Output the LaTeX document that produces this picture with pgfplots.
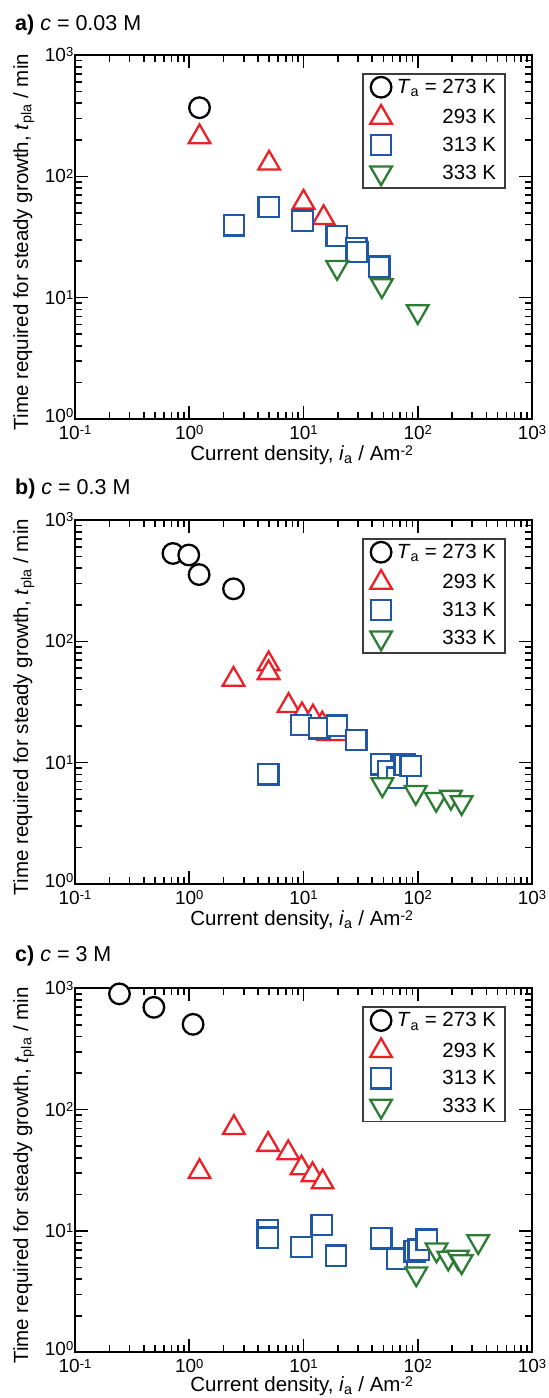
\documentclass[border=0pt]{standalone}
\usepackage{fontspec}
\setmainfont{Liberation Sans}
\usepackage{pgfplots}
\pgfplotsset{compat=1.18}
\definecolor{cred}{RGB}{236,32,39}
\definecolor{cblue}{RGB}{33,87,168}
\definecolor{cgreen}{RGB}{44,124,52}
\definecolor{cframe}{RGB}{60,60,60}
\newcommand{\sups}[1]{\raisebox{4.8pt}{\fontsize{13}{13}\selectfont #1}}
\newcommand{\tl}[1]{10\sups{#1}}
\pgfplotsset{
  s273/.style={only marks, mark=*, mark size=10.3pt, mark options={line width=2.3pt, draw=black, fill=white, solid}},
  s293/.style={only marks, mark=triangle*, mark size=12.5pt, mark options={line width=2.3pt, draw=cred, fill=white, solid}},
  s313/.style={only marks, mark=square*, mark size=10.2pt, mark options={line width=2.3pt, draw=cblue, fill=white, solid}},
  s333/.style={only marks, mark=triangle*, mark size=12.5pt, mark options={line width=2.3pt, draw=cgreen, fill=white, solid, rotate=180}},
  every axis/.append style={
    scale only axis, width=457pt, height=364pt, anchor=north west,
    xmin=0.1, xmax=1000, ymin=1, ymax=1000,
    xtick={0.1,1,10,100,1000},
    xticklabels={\tl{-1},\tl{0},\tl{1},\tl{2},\tl{3}},
    ytick={1,10,100,1000},
    yticklabels={\raisebox{3.5pt}{\tl{0}},\tl{1},\tl{2},\tl{3}},
    minor xtick={0.2,0.3,0.4,0.5,0.6,0.7,0.8,0.9,2,3,4,5,6,7,8,9,20,30,40,50,60,70,80,90,200,300,400,500,600,700,800,900},
    minor ytick={2,3,4,5,6,7,8,9,20,30,40,50,60,70,80,90,200,300,400,500,600,700,800,900},
    tick align=inside, major tick length=13pt, minor tick length=7pt,
    every tick/.style={black, line width=1.6pt},
    axis line style={line width=1.8pt},
    xticklabel style={font=\fontsize{19}{19}\selectfont, anchor=base, inner sep=0pt, yshift=-20.5pt},
    yticklabel style={font=\fontsize{19}{19}\selectfont, anchor=base east, inner sep=0pt, xshift=-1.5pt, yshift=-6.5pt},
    xlabel={Current density, \textit{i}\textsubscript{a} / Am\raisebox{5.2pt}{\fontsize{14}{14}\selectfont -2}},
    ylabel={Time required for steady growth, \textit{t}\textsubscript{pla} / min},
    every axis x label/.style={at={(axis description cs:0.496,-0.1135)}, anchor=base, inner sep=0pt, font=\fontsize{20.5}{20.5}\selectfont},
    every axis y label/.style={at={(axis description cs:-0.1028,0.486)}, rotate=90, anchor=base, inner sep=0pt, font=\fontsize{20.5}{20.5}\selectfont},
    legend cell align=right,
    legend style={at={(rel axis cs:0.943,0.9505)}, anchor=north east, draw=cframe, line width=1.8pt, fill=white,
      font=\fontsize{20.5}{20.5}\selectfont, inner xsep=7pt, inner ysep=3pt, column sep=3pt, row sep=7.5pt},
    clip=false,
  }
}
\begin{document}
\begin{tikzpicture}
\path[use as bounding box] (0,0) rectangle (549pt,-1398pt);
% ---------- panel a
\node[anchor=base west, font=\fontsize{21.5}{21.5}\selectfont, inner sep=0pt] at (15pt,-30.7pt) {\textbf{a)} \textit{c} = 0.03 M};
\begin{loglogaxis}[at={(75pt,-55pt)}]
\addplot[s273] coordinates {(1.23,368)};
\addplot[s293] coordinates {(1.23,211) (5,128) (10,61) (15,45.5)};
\addplot[s313] coordinates {(2.46,39.4) (4.95,56) (9.8,43) (19.5,32.2) (29,25.5) (29.5,23.8) (46,18)};
\addplot[s333] coordinates {(19.7,17.8) (48.5,12.6) (100,7.7)};
\legend{\textit{T}\textsubscript{a} = 273 K, 293 K, 313 K, 333 K}
\end{loglogaxis}
% ---------- panel b
\node[anchor=base west, font=\fontsize{21.5}{21.5}\selectfont, inner sep=0pt] at (15pt,-494pt) {\textbf{b)} \textit{c} = 0.3 M};
\begin{loglogaxis}[at={(75pt,-520pt)}]
\addplot[s273] coordinates {(0.72,530) (0.99,515) (1.22,355) (2.44,271)};
\addplot[s293] coordinates {(2.44,48.5) (4.95,65) (4.95,55) (7.4,29.5) (9.7,24.7) (12.1,23.7) (14.6,20.8) (16.5,17.3) (19.5,17.3)};
\addplot[s313] coordinates {(4.93,8.0) (9.5,20.5) (13.8,19.2) (19.6,20.2) (29,15.4) (48,9.7) (55,8.5) (66,7.5) (77,9.6) (87,9.4)};
\addplot[s333] coordinates {(49,6.6) (96,5.7) (145,5.0) (195,5.2) (242,4.7)};
\legend{\textit{T}\textsubscript{a} = 273 K, 293 K, 313 K, 333 K}
\end{loglogaxis}
% ---------- panel c
\node[anchor=base west, font=\fontsize{21.5}{21.5}\selectfont, inner sep=0pt] at (15pt,-961.3pt) {\textbf{c)} \textit{c} = 3 M};
\begin{loglogaxis}[at={(75pt,-988.3pt)},
  every axis x label/.append style={at={(axis description cs:0.496,-0.1085)}}]
\addplot[s273] coordinates {(0.245,900) (0.49,697) (1.08,505)};
\addplot[s293] coordinates {(1.23,30.8) (2.46,71) (4.9,51.5) (7.35,44) (9.6,33) (12,29) (14.7,25.3)};
\addplot[s313] coordinates {(4.85,10.1) (4.85,8.8) (9.6,7.4) (14.4,11.2) (19.2,6.25) (48,8.7) (66,5.9) (94,6.8) (102,7.0) (120,8.5)};
\addplot[s333] coordinates {(97,4.45) (146,7.0) (185,6.0) (225,6.1) (242,5.6) (338,8.2)};
\legend{\textit{T}\textsubscript{a} = 273 K, 293 K, 313 K, 333 K}
\end{loglogaxis}
\end{tikzpicture}
\end{document}
